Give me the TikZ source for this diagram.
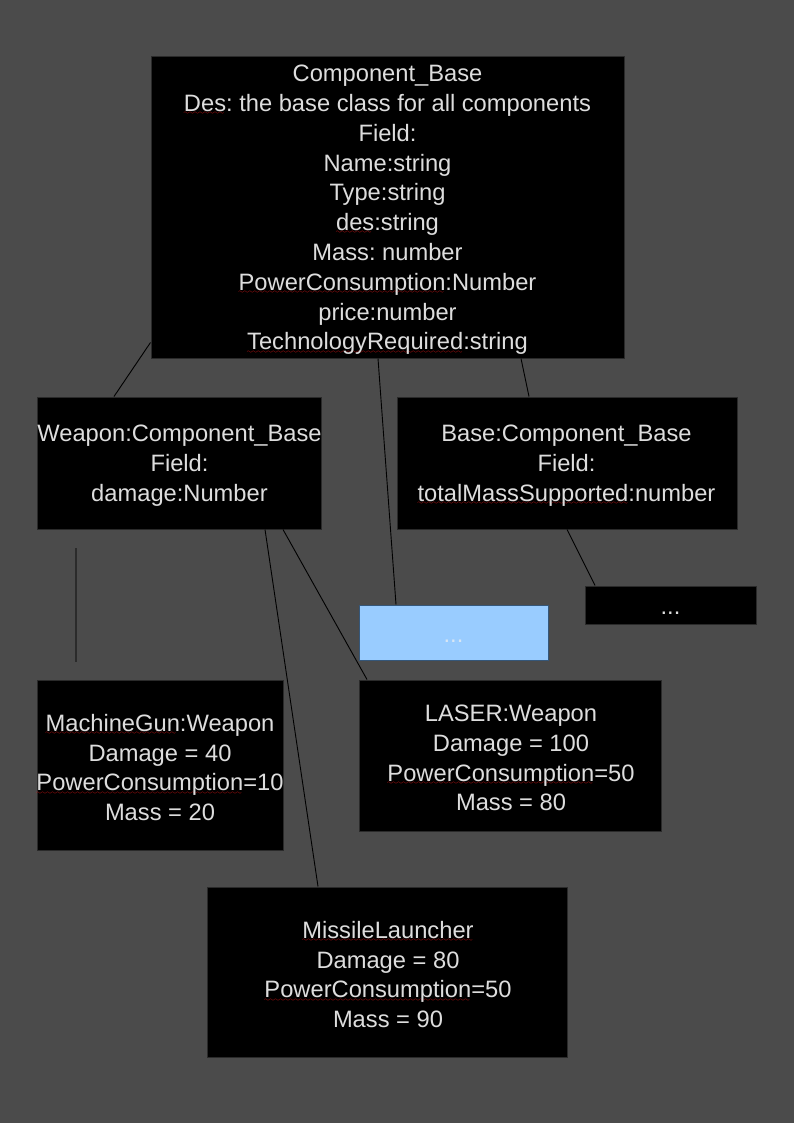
\documentclass[tikz,border=0pt]{standalone}
\usepackage{fontspec}
\setmainfont{Liberation Sans}
\usetikzlibrary{calc}
\definecolor{bg}{HTML}{4B4B4B}
\definecolor{boxline}{HTML}{2A2A2A}
\definecolor{txtc}{HTML}{DDDDDD}
\definecolor{squigred}{HTML}{F01818}
\definecolor{lightblue}{HTML}{99CCFF}
\definecolor{blueline}{HTML}{35577A}
\definecolor{bluetxt}{HTML}{D8E6F4}
\definecolor{strayline}{HTML}{2B2B2B}
\font\sqfont=lasy6
\newsavebox\sqbox
\newcommand\squig[1]{\sbox\sqbox{#1}\rlap{\textcolor{squigred}{\lower3.2pt\hbox to \wd\sqbox{\leaders\hbox{\sqfont\char58}\hfill}}}\usebox\sqbox}
\begin{document}
\frenchspacing
\begin{tikzpicture}[x=1pt,y=-1pt,
  box/.style={fill=black,draw=boxline,line width=1pt,inner sep=0pt},
  txt/.style={text=txtc,align=center,inner sep=0pt,yshift=-2.5pt,font=\fontsize{23.7}{29.8}\selectfont\frenchspacing},
  conn/.style={draw=black,line width=0.9pt}]
\fill[bg] (0,0) rectangle (794,1123);
\useasboundingbox (0,0) rectangle (794,1123);

% boxes
\node[box,minimum width=473pt,minimum height=301pt] (cb) at (387.5,207.5) {};
\node[txt] (cbt) at (cb.center) {Component\_Base\\\squig{Des}: the base class for all components\\Field:\\Name:string\\Type:string\\\squig{des}:string\\Mass: number\\\squig{PowerConsumption}:Number\\price:number\\\squig{TechnologyRequired}:string};

\node[box,minimum width=284pt,minimum height=132pt] (wp) at (179,463) {};
\node[txt] (wpt) at (179.5,463) {Weapon:Component\_Base\\Field:\\damage:Number};

\node[box,minimum width=340pt,minimum height=132pt] (base) at (567,463) {};
\node[txt] (baset) at (566.5,463) {Base:Component\_Base\\Field:\\\squig{totalMassSupported}:number};

\node[box,minimum width=171pt,minimum height=38pt] (dots) at (670.5,605) {};
\node[txt,yshift=0pt] (dotst) at (670.5,611) {...};

\node[box,fill=lightblue,draw=blueline,minimum width=189pt,minimum height=55pt] (blue) at (453.5,632.5) {};
\node[txt,yshift=0pt,text=bluetxt] (bluet) at (453.5,639) {...};

\node[box,minimum width=246pt,minimum height=170pt] (mg) at (160,765) {};
\node[txt] (mgt) at (mg.center) {\squig{MachineGun}:Weapon\\Damage = 40\\\squig{PowerConsumption}=10\\Mass = 20};

\node[box,minimum width=302pt,minimum height=151pt] (laser) at (510,755.5) {};
\node[txt] (lasert) at (511,755.5) {LASER:Weapon\\Damage = 100\\\squig{PowerConsumption}=50\\Mass = 80};

\node[box,minimum width=360pt,minimum height=170pt] (ml) at (387,972) {};
\node[txt] (mlt) at (388,972) {\squig{MissileLauncher}\\Damage = 80\\\squig{PowerConsumption}=50\\Mass = 90};

% connectors
\draw[conn] ([yshift=16pt]cb.south west) -- ([xshift=-65pt]wp.north);
\draw[conn] ([xshift=-9.5pt]cb.south) -- ([xshift=-57.5pt]blue.north);
\draw[conn] ([xshift=133.5pt]cb.south) -- ([xshift=-38pt]base.north);
\draw[conn] (base.south) -- ([xshift=-75.5pt]dots.north);
\draw[conn] ([xshift=104pt]wp.south) -- ([xshift=-143pt]laser.north);
\draw[conn] ([xshift=86pt]wp.south) -- ([xshift=-69pt]ml.north);

% stray vertical line
\coordinate (sa) at (76,548);
\coordinate (sb) at (76,662);
\draw[strayline,line width=1.3pt] (sa) -- (sb);
\end{tikzpicture}
\end{document}
